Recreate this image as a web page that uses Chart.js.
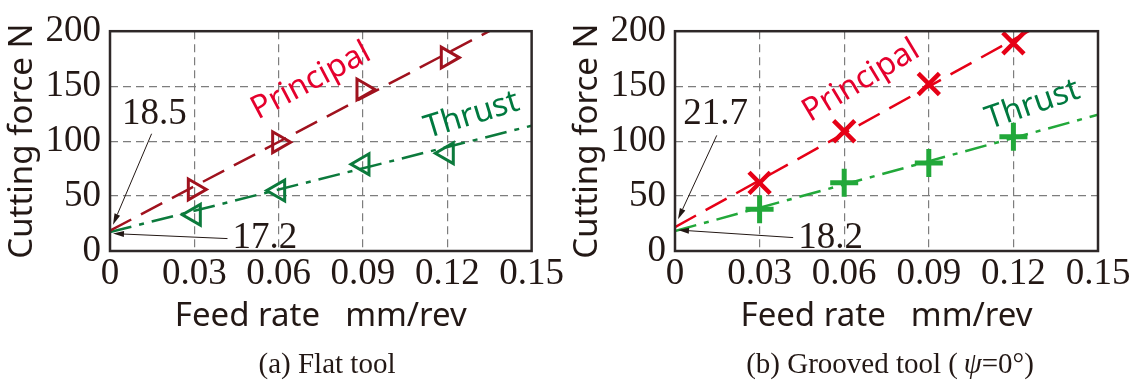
<!DOCTYPE html>
<html>
<head>
<meta charset="utf-8">
<script src="https://cdn.jsdelivr.net/npm/chart.js@4.4.1/dist/chart.umd.min.js"></script>
<style>
html, body { margin: 0; padding: 0; background: #fff; }
#wrap { position: relative; width: 1136px; height: 383px; overflow: hidden; }
.panel { position: absolute; top: 0; }
.caption { position: absolute; top: 349px; width: 400px; font-family: "Liberation Serif", serif; font-size: 29px; line-height: 29px; color: #231815; text-align: center; white-space: nowrap; }
</style>
</head>
<body>
<div id="wrap">
	<canvas id="flatChart" class="panel" width="565" height="383" style="left:0"></canvas>
	<canvas id="grooveChart" class="panel" width="571" height="383" style="left:565px"></canvas>
	<div class="caption" style="left:127px">(a) Flat tool</div>
	<div class="caption" style="left:690px">(b) Grooved tool (&#8201;<i>ψ</i>=0°)</div>
</div>
<script>
// measured forces per feed rate
var feedRate = [0.03, 0.06, 0.09, 0.12];
var flatPrincipal = [56, 99, 147, 176];
var flatThrust = [33, 55, 79, 89];
var groovedPrincipal = [62, 109, 152, 189];
var groovedThrust = [38, 62, 80, 104];

// regression lines, value at feed 0 and at feed 0.15
var fitFeed = [0, 0.15];
var flatPrincipalFit = [18.5, 220.4];
var flatThrustFit = [17.2, 114];
var groovedPrincipalFit = [21.7, 235];
var groovedThrustFit = [18.2, 124];

var feedTicks = [0, 0.03, 0.06, 0.09, 0.12, 0.15];
var feedTickLabels = ["0", "0.03", "0.06", "0.09", "0.12", "0.15"];
var forceTicks = [0, 50, 100, 150, 200];
var forceTickLabels = ["0", "50", "100", "150", "200"];

var TEXT_COLOR = "#231815";

function toPoints(xs, ys){
	return xs.map(function(x, i){ return {x: x, y: ys[i]}; });
}

function drawArrow(ctx, x0, y0, x1, y1){
	var ang = Math.atan2(y1 - y0, x1 - x0);
	var len = 11, half = 3;
	var bx = x1 - Math.cos(ang) * len, by = y1 - Math.sin(ang) * len;
	ctx.beginPath();
	ctx.moveTo(x0, y0);
	ctx.lineTo(bx, by);
	ctx.stroke();
	ctx.beginPath();
	ctx.moveTo(x1, y1);
	ctx.lineTo(bx + Math.sin(ang) * half, by - Math.cos(ang) * half);
	ctx.lineTo(bx - Math.sin(ang) * half, by + Math.cos(ang) * half);
	ctx.closePath();
	ctx.fill();
}

// frame, series names and intercept callouts
var forceDeco = {
	id: "forceDeco",
	afterDatasetsDraw: function(chart, args, opts){
		var ctx = chart.ctx, area = chart.chartArea;
		var xs = chart.scales.x, ys = chart.scales.y;

		ctx.save();
		ctx.strokeStyle = "#2e2828";
		ctx.lineWidth = 2.5;
		ctx.strokeRect(area.left, area.top, area.right - area.left, area.bottom - area.top);

		ctx.font = "32px 'Noto Sans'";
		ctx.textAlign = "center";
		ctx.textBaseline = "middle";
		opts.labels.forEach(function(lb){
			ctx.save();
			ctx.translate(xs.getPixelForValue(lb.x), ys.getPixelForValue(lb.y));
			ctx.rotate(-lb.angle * Math.PI / 180);
			ctx.fillStyle = lb.color;
			ctx.fillText(lb.text, 0, 0);
			ctx.restore();
		});

		ctx.font = "37px 'Liberation Serif'";
		ctx.textAlign = "left";
		ctx.textBaseline = "alphabetic";
		ctx.fillStyle = TEXT_COLOR;
		ctx.strokeStyle = TEXT_COLOR;
		ctx.lineWidth = 1;
		opts.notes.forEach(function(nt){
			ctx.fillText(String(nt.value), xs.getPixelForValue(nt.tx), ys.getPixelForValue(nt.ty));
			drawArrow(ctx,
				xs.getPixelForValue(nt.from[0]), ys.getPixelForValue(nt.from[1]),
				xs.getPixelForValue(0) + nt.tip[0], ys.getPixelForValue(nt.value) + nt.tip[1]);
		});
		ctx.restore();
	}
};

function makePanel(canvasId, cfg){
	var canvas = document.getElementById(canvasId);
	var gridColor = function(max){
		return function(c){
			if(!c.tick || c.tick.value <= 0 || c.tick.value >= max - 1e-9) return "rgba(0,0,0,0)";
			return "#7d7d7d";
		};
	};

	return new Chart(canvas, {
		type: "scatter",
		data: {
			datasets: [
				{
					data: toPoints(feedRate, cfg.principal),
					pointStyle: cfg.principalMarker.style,
					rotation: cfg.principalMarker.rotation,
					pointRadius: cfg.principalMarker.radius,
					pointBorderWidth: cfg.principalMarker.width,
					pointBorderColor: cfg.principalColor,
					pointBackgroundColor: "rgba(0,0,0,0)",
					showLine: false
				},
				{
					data: toPoints(feedRate, cfg.thrust),
					pointStyle: cfg.thrustMarker.style,
					rotation: cfg.thrustMarker.rotation,
					pointRadius: cfg.thrustMarker.radius,
					pointBorderWidth: cfg.thrustMarker.width,
					pointBorderColor: cfg.thrustColor,
					pointBackgroundColor: "rgba(0,0,0,0)",
					showLine: false
				},
				{
					data: toPoints(fitFeed, cfg.principalFit),
					showLine: true,
					pointRadius: 0,
					borderColor: cfg.principalColor,
					borderWidth: 2.5,
					borderDash: [24, 11],
					clip: 0
				},
				{
					data: toPoints(fitFeed, cfg.thrustFit),
					showLine: true,
					pointRadius: 0,
					borderColor: cfg.thrustColor,
					borderWidth: 2.5,
					borderDash: [22, 8, 5, 8],
					clip: 0
				}
			]
		},
		options: {
			responsive: false,
			animation: false,
			events: [],
			layout: {padding: {left: 0, top: 21, right: canvas.width - 533, bottom: 51}},
			plugins: {
				legend: {display: false},
				tooltip: {enabled: false},
				forceDeco: {labels: cfg.labels, notes: cfg.notes}
			},
			scales: {
				x: {
					type: "linear",
					min: 0,
					max: 0.15,
					afterBuildTicks: function(s){ s.ticks = feedTicks.map(function(v){ return {value: v}; }); },
					afterFit: function(s){ s.height = 81; },
					grid: {color: gridColor(0.15), lineWidth: 1.2, drawTicks: false},
					border: {display: false, dash: [8, 5]},
					ticks: {
						autoSkip: false,
						maxRotation: 0,
						padding: 1,
						color: TEXT_COLOR,
						font: {family: "Liberation Serif", size: 37, lineHeight: 1.2},
						callback: function(v, i){ return feedTickLabels[i]; }
					},
					title: {
						display: true,
						text: "Feed rate\u2002 mm/rev",
						color: TEXT_COLOR,
						font: {family: "Noto Sans", size: 33, lineHeight: 1},
						padding: {top: 0, bottom: -1}
					}
				},
				y: {
					type: "linear",
					min: 0,
					max: 200,
					afterBuildTicks: function(s){ s.ticks = forceTicks.map(function(v){ return {value: v}; }); },
					afterFit: function(s){ s.width = 110; },
					grid: {color: gridColor(200), lineWidth: 1.2, drawTicks: false},
					border: {display: false, dash: [8, 5]},
					ticks: {
						padding: 9,
						color: TEXT_COLOR,
						font: {family: "Liberation Serif", size: 37, lineHeight: 1.2},
						callback: function(v, i){ return forceTickLabels[i]; }
					},
					title: {
						display: true,
						text: "Cutting force N",
						color: TEXT_COLOR,
						font: {family: "Noto Sans", size: 33, lineHeight: 1},
						padding: {top: 6, bottom: 0}
					}
				}
			}
		},
		plugins: [forceDeco]
	});
}

makePanel("flatChart", {
	principal: flatPrincipal,
	thrust: flatThrust,
	principalFit: flatPrincipalFit,
	thrustFit: flatThrustFit,
	principalColor: "#a0121e",
	thrustColor: "#0c7a3c",
	principalMarker: {style: "triangle", rotation: 90, radius: 12, width: 3},
	thrustMarker: {style: "triangle", rotation: 270, radius: 12, width: 3},
	labels: [
		{text: "Principal", x: 0.0715, y: 154.5, angle: 28, color: "#e5002d"},
		{text: "Thrust", x: 0.1287, y: 123.5, angle: 17, color: "#00793f"}
	],
	notes: [
		{value: flatPrincipalFit[0], tx: 0.0043, ty: 115.7, from: [0.0148, 106.7], tip: [3, -6]},
		{value: flatThrustFit[0], tx: 0.0436, ty: 2.6, from: [0.0418, 11.3], tip: [3, 1.5]}
	]
});

makePanel("grooveChart", {
	principal: groovedPrincipal,
	thrust: groovedThrust,
	principalFit: groovedPrincipalFit,
	thrustFit: groovedThrustFit,
	principalColor: "#e60016",
	thrustColor: "#22a83a",
	principalMarker: {style: "crossRot", rotation: 0, radius: 15, width: 4.5},
	thrustMarker: {style: "cross", rotation: 0, radius: 14, width: 5},
	labels: [
		{text: "Principal", x: 0.066, y: 154.8, angle: 31, color: "#e5002d"},
		{text: "Thrust", x: 0.1268, y: 133, angle: 19, color: "#00793f"}
	],
	notes: [
		{value: groovedPrincipalFit[0], tx: 0.0029, ty: 115.7, from: [0.0148, 105.2], tip: [3, -8]},
		{value: groovedThrustFit[0], tx: 0.0437, ty: 2.6, from: [0.0419, 12.2], tip: [3, -1]}
	]
});
</script>
</body>
</html>
